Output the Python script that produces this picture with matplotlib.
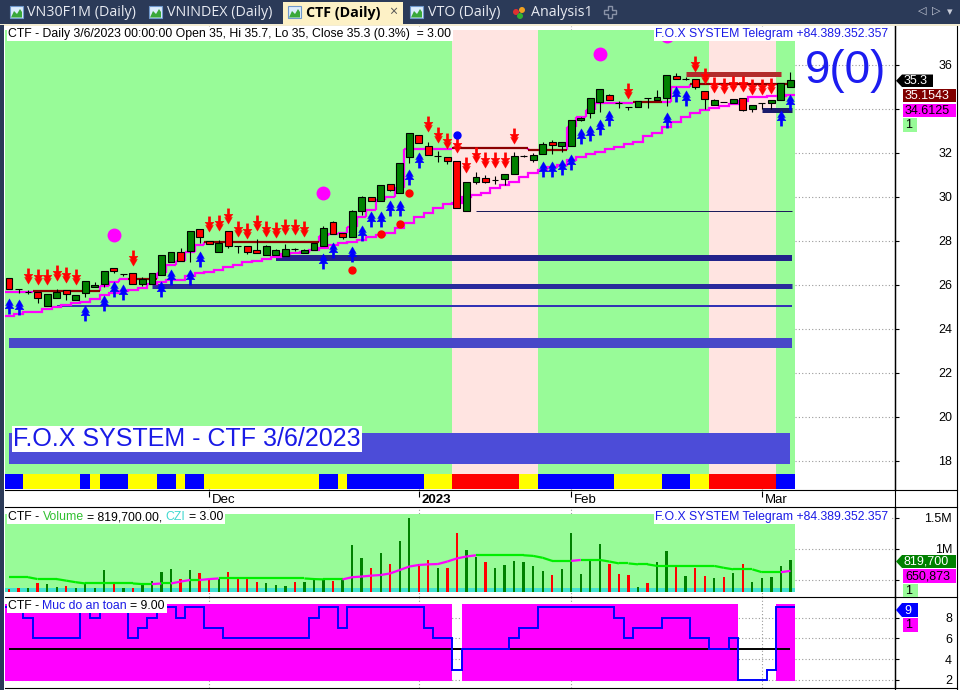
import numpy as np
import matplotlib
matplotlib.use("Agg")
import matplotlib.pyplot as plt
import matplotlib.transforms as mtransforms
from matplotlib.path import Path
from matplotlib.patches import Rectangle, Polygon, Circle
from matplotlib.lines import Line2D
from matplotlib.collections import LineCollection

plt.rcParams['font.family'] = ['Liberation Sans', 'DejaVu Sans']

# ======================= DATA =======================
symbol = "CTF"
last_date = "3/6/2023"

opens = [26.3, 25.8, 25.7, 25.7, 25.05, 25.4, 25.75, 25.3, 25.65, 25.9,
         26.05, 26.75, 26.5, 26.55, 26.05, 26.05, 26.45, 27.05, 27.5, 27.55,
         28.55, 28.0, 27.5, 28.45, 27.75, 27.75, 27.6, 27.35, 27.35, 27.3,
         27.65, 27.45, 27.6, 27.75, 28.85, 28.35, 28.2, 29.35, 30.0, 29.8,
         30.6, 30.2, 31.8, 32.8, 32.3, 31.85, 31.8, 31.65, 29.35, 30.7,
         30.85, 30.75, 30.8, 31.05, 31.85, 31.7, 31.95, 32.5, 32.3, 32.3,
         33.5, 33.8, 34.3, 34.65, 34.25, 34.1, 34.1, 34.5, 34.4, 34.5,
         35.5, 35.35, 35.35, 34.8, 34.2, 34.3, 34.25, 34.5, 34.0, 34.25,
         34.25, 34.4, 35.0]
closes = [25.8, 25.8, 25.7, 25.4, 25.6, 25.7, 25.6, 25.55, 26.2, 26.0,
          26.65, 26.65, 26.5, 26.05, 26.25, 26.55, 27.35, 27.5, 27.1, 28.45,
          28.2, 27.85, 27.9, 27.75, 27.75, 27.5, 27.45, 27.75, 27.6, 27.65,
          27.65, 27.6, 27.9, 28.6, 28.3, 28.2, 29.35, 30.0, 29.8, 30.55,
          30.3, 31.55, 32.9, 32.45, 31.9, 31.85, 31.65, 29.5, 30.7, 30.9,
          30.7, 30.75, 31.05, 31.85, 31.85, 31.9, 32.4, 32.35, 32.5, 33.5,
          33.6, 34.5, 34.9, 34.4, 34.25, 34.1, 34.35, 34.5, 34.55, 35.55,
          35.35, 35.35, 35.0, 34.45, 34.4, 34.3, 34.45, 33.95, 34.2, 34.25,
          34.4, 35.2, 35.3]
highs = [26.3, 25.8, 25.75, 25.7, 25.6, 25.8, 25.75, 25.55, 26.2, 26.15,
         26.65, 26.75, 26.5, 26.55, 26.35, 26.55, 27.35, 27.5, 27.7, 28.45,
         28.55, 28.0, 28.05, 28.45, 27.75, 27.75, 28.1, 27.8, 27.65, 27.85,
         27.7, 27.65, 27.9, 28.7, 28.9, 28.35, 29.4, 30.05, 30.0, 30.55,
         30.6, 31.55, 32.9, 32.8, 32.5, 32.1, 31.8, 31.65, 30.7, 31.15,
         31.0, 30.95, 31.05, 32.05, 31.9, 32.0, 32.5, 32.6, 32.5, 33.5,
         33.65, 34.5, 34.9, 34.7, 34.35, 34.1, 34.35, 34.5, 34.85, 35.55,
         35.65, 35.45, 35.35, 34.8, 34.45, 34.3, 34.45, 34.5, 34.2, 34.25,
         34.4, 35.2, 35.7]
lows = [25.8, 25.65, 25.6, 25.2, 25.05, 25.4, 25.3, 25.3, 25.45, 25.9,
        25.9, 26.55, 26.4, 26.05, 25.95, 26.05, 26.45, 27.05, 27.1, 27.05,
        27.9, 27.85, 27.5, 27.7, 27.45, 27.4, 27.45, 27.35, 27.35, 27.3,
        27.55, 27.45, 27.6, 27.75, 28.3, 28.1, 28.2, 29.2, 29.8, 29.8,
        30.25, 30.2, 31.55, 32.45, 31.9, 31.6, 31.5, 29.5, 29.35, 30.6,
        30.65, 30.6, 30.55, 31.05, 31.8, 31.6, 31.95, 31.95, 32.05, 32.3,
        33.45, 33.6, 33.85, 34.4, 34.05, 33.95, 34.1, 34.05, 34.4, 34.15,
        35.35, 35.3, 34.9, 34.0, 34.2, 34.3, 34.25, 33.9, 33.85, 34.0,
        34.0, 34.4, 35.0]

volumes = [360000, 370000, 380000, 450000, 440000, 390000, 410000, 370000, 440000, 370000,
           665000, 450000, 380000, 380000, 440000, 490000, 630000, 680000, 520000, 665000,
           610000, 520000, 520000, 630000, 540000, 560000, 470000, 450000, 430000, 410000,
           470000, 470000, 520000, 520000, 490000, 520000, 1060000, 850000, 690000, 930000,
           760000, 1130000, 1490000, 760000, 820000, 690000, 690000, 1250000, 980000, 880000,
           800000, 700000, 745000, 810000, 790000, 730000, 650000, 585000, 680000, 1260000,
           600000, 820000, 1080000, 760000, 600000, 585000, 400000, 450000, 790000, 970000,
           720000, 570000, 690000, 570000, 540000, 550000, 610000, 760000, 470000, 540000,
           550000, 730000, 819700]
volume_colors = ("rrgrggrggg" "grgrggggrg" "rrgrrrrggg" "rgggrgggrg" "rggrrgrrgg"
                 "rggggggrgg" "gggrrrgrgg" "rgrrgrgrgg" "ggg")
volume_ma = [550000, 550000, 550000, 520000, 520000, 520000, 495000, 470000, 450000, 450000,
             450000, 450000, 450000, 450000, 440000, 440000, 450000, 450000, 480000, 505000,
             505000, 520000, 530000, 530000, 530000, 530000, 530000, 530000, 530000, 530000,
             530000, 530000, 520000, 515000, 515000, 515000, 550000, 560000, 575000, 585000,
             610000, 665000, 720000, 745000, 755000, 760000, 800000, 850000, 880000, 900000,
             900000, 900000, 900000, 900000, 900000, 890000, 860000, 810000, 810000, 810000,
             825000, 825000, 825000, 800000, 770000, 770000, 755000, 755000, 730000, 730000,
             730000, 730000, 730000, 730000, 730000, 700000, 675000, 675000, 675000, 630000,
             630000, 630000, 650873]

trail_line = [24.59, 24.68, 24.76, 24.76, 24.89, 24.99, 25.09, 25.17, 25.24, 25.35,
              25.55, 25.62, 25.74, 25.77, 25.85, 26.05, 26.15, 26.23, 26.23, 26.42,
              26.53, 26.58, 26.68, 26.80, 26.91, 27.03, 27.10, 27.20, 27.29, 27.40,
              27.44, 27.50, 27.59, 27.67, 27.82, 27.90, 27.97, 28.05, 28.20, 28.27,
              28.38, 28.58, 28.80, 29.08, 29.29, 29.51, 29.68, 29.71, 29.99, 30.09,
              30.20, 30.40, 30.55, 30.70, 30.92, 31.08, 31.23, 31.35, 31.45, 31.68,
              31.83, 31.95, 32.06, 32.17, 32.29, 32.41, 32.51, 32.77, 32.92, 33.17,
              33.42, 33.65, 33.83, 33.95, 34.03, 34.14, 34.21, 34.38, 34.53, 34.56,
              34.59, 34.60, 34.6125]
upper_line = [25.67, 25.67, 25.70, 25.74, 25.74, 25.74, 25.74, 25.74, 25.74, 25.74,
              25.95, 26.15, 26.26, 26.26, 26.26, 26.26, 26.53, 26.90, 27.10, 27.50,
              27.80, 27.95, 27.95, 27.95, 27.95, 27.95, 27.95, 27.95, 27.95, 27.95,
              27.95, 27.95, 27.95, 28.23, 28.32, 28.38, 28.65, 29.10, 29.41, 29.86,
              30.01, 30.39, 32.17, 32.17, 32.17, 32.17, 32.17, 32.24, 32.24, 32.24,
              32.24, 32.24, 32.24, 32.24, 32.24, 32.14, 32.14, 32.14, 32.14, 33.20,
              33.65, 33.95, 34.26, 34.29, 34.29, 34.29, 34.33, 34.33, 34.33, 34.33,
              35.02, 35.02, 35.1543, 35.1543, 35.1543, 35.1543, 35.1543, 35.1543, 35.1543, 35.1543,
              35.1543, 35.1543, 35.1543]
upper_flag = ("mmmrrrrrrr" "mmmrrrmmmm" "mrrrrrrrrr" "rrrmmmmmmm" "mmmmmmmrrr"
              "rrrrrrrrrm" "mmmmmmrrrm" "mmrrrrrrrr" "rrr")

sell_bars = [3, 4, 5, 6, 7, 8, 14, 22, 23, 24, 25, 26, 27, 28, 29, 30, 31, 32,
             45, 46, 47, 48, 49, 50, 51, 52, 53, 54, 66, 73, 74, 75, 76, 77, 78, 79, 80, 81]
sell_y = [26.40, 26.35, 26.35, 26.53, 26.43, 26.35, 27.21,
          28.77, 28.80, 29.13, 28.53, 28.45, 28.80, 28.53, 28.48, 28.62, 28.62, 28.53,
          33.31, 32.80, 32.54, 32.34, 31.43, 31.89, 31.70, 31.66, 31.70, 32.77, 34.80,
          36.04, 35.49, 35.09, 35.05, 35.13, 35.13, 34.98, 34.98, 35.05]
buy_bars = [1, 2, 9, 11, 12, 13, 17, 18, 20, 21, 34, 35, 37, 38, 39, 40, 41, 42, 43, 44,
            57, 58, 59, 60, 61, 62, 63, 64, 70, 71, 72, 82, 83]
buy_y = [25.05, 24.98, 24.71, 25.20, 25.81, 25.70, 25.81, 26.38, 26.38, 27.16,
         27.11, 27.58, 27.39, 28.38, 29.02, 29.02, 29.51, 29.51, 30.90, 31.70,
         31.25, 31.25, 31.36, 31.57, 32.75, 32.91, 33.16, 33.61, 33.49, 34.67, 34.52,
         33.58, 34.33]
red_dot_bars = [37, 40, 42, 43]
red_dot_y = [26.68, 28.32, 28.77, 30.20]
blue_dot_bars = [48]
blue_dot_y = [32.83]
magenta_dot_bars = [12, 34, 63, 70]
magenta_dot_y = [28.27, 30.17, 36.50, 37.30]

support_start = [29, 16, 6, 1, 50, 80]
support_level = [27.24, 25.93, 25.05, 23.37, 29.36, 33.93]
resist_start, resist_end, resist_level = 72, 82, 35.57

safety = [9, 9, 8, 6, 6, 6, 6, 6, 9, 8,
          9, 9, 9, 6, 7, 8, 9, 9, 8, 9,
          9, 7, 7, 6, 6, 6, 6, 6, 6, 6,
          6, 6, 8, 9, 9, 7, 9, 9, 9, 9,
          9, 9, 9, 9, 7, 6, 6, 3, 5, 5,
          5, 5, 5, 6, 7, 7, 9, 9, 9, 9,
          9, 9, 9, 9, 8, 6, 7, 7, 7, 8,
          8, 8, 6, 6, 5, 5, 6, 2, 2, 2,
          3, 9, 9]
strip_codes = ("BB" + "YYYYYY" + "B" + "Y" + "BBB" + "YYY" + "BB" + "Y" + "BB" + "Y" * 12 +
               "BB" + "Y" + "B" * 8 + "YYY" + "R" * 7 + "YY" + "B" * 8 + "Y" * 5 + "BBB" +
               "YY" + "R" * 7 + "BB")
pink_zones = [(48, 56), (75, 81)]
month_bars = [22, 44, 60, 80]
month_labels = ["Dec", "2023", "Feb", "Mar"]
price_ticks = [18, 20, 22, 24, 26, 28, 30, 32, 34, 36]
price_tick_labels = ["18", "20", "22", "24", "26", "28", "30", "32", "", "36"]  # 34 hidden under tags
volume_ticks = [500000, 1000000, 1500000]
volume_tick_labels = ["", "1M", "1.5M"]  # 500,000 hidden under tags

# ======================= FIGURE =======================
W, H = 960, 690
fig = plt.figure(figsize=(W / 100, H / 100), dpi=100)
fig.patch.set_facecolor('white')
pxT = mtransforms.Affine2D().scale(1 / W, -1 / H).translate(0, 1) + fig.transFigure

n = len(closes)
idx = np.arange(n)
o = np.array(opens); c = np.array(closes); h = np.array(highs); l = np.array(lows)
XL = (-0.42, 92.97)
GREEN_BG = '#98fb98'
PINK_BG = '#ffe4e1'
GRID = dict(color='#9a9a9a', linestyle=(0, (1, 2)), linewidth=0.8)
mx = np.array(month_bars) - 1


def rect_px(x0, y0, x1, y1):
    return [x0 / W, 1 - y1 / H, (x1 - x0) / W, (y1 - y0) / H]


def style_axis(a, ticks, labels=None):
    for s in ('left', 'top', 'bottom'):
        a.spines[s].set_visible(False)
    a.spines['right'].set_linewidth(1.0)
    a.yaxis.tick_right()
    a.set_yticks(ticks)
    if labels is not None:
        a.set_yticklabels(labels)
    a.tick_params(axis='x', bottom=False, labelbottom=False, top=False)
    a.tick_params(axis='y', direction='out', length=3, width=0.8, labelsize=9,
                  pad=38, left=False, right=True, labelright=True, labelleft=False)
    for t in a.yaxis.get_major_ticks():
        t.label2.set_horizontalalignment('right')
    a.set_axisbelow(True)
    a.yaxis.grid(True, **GRID)
    a.set_xlim(*XL)


ax = fig.add_axes(rect_px(5, 26, 895, 490))
axd = fig.add_axes(rect_px(5, 490, 895, 507))
axv = fig.add_axes(rect_px(5, 507, 895, 597))
axs = fig.add_axes(rect_px(5, 597, 895, 688))

# ---------------- price panel ----------------
ax.set_ylim(16.68, 37.77)
style_axis(ax, price_ticks, price_tick_labels)
ax.vlines(mx, 16.68, 37.77, zorder=0.4, **GRID)

pink = np.zeros(n, bool)
for a0, a1 in pink_zones:
    pink[a0 - 1:a1] = True
start = 0
for i in range(1, n + 1):
    if i == n or pink[i] != pink[start]:
        ax.axvspan(start - 0.5, i - 0.5, ymin=0.0345, ymax=0.991,
                   color=PINK_BG if pink[start] else GREEN_BG, lw=0, zorder=0.6)
        start = i
strip_map = {'B': '#0000ff', 'Y': '#ffff00', 'R': '#ff0000'}
ax.bar(idx, 17.41 - 16.73, bottom=16.73, width=1.0,
       color=[strip_map[s] for s in strip_codes], lw=0, zorder=0.7)

# banner box
ax.add_patch(Rectangle((0, 17.86), n - 1, 19.27 - 17.86, fc='#4c4cd8', lw=0, zorder=1.5))

sup_w = [6, 5, 2, 10, 1, 5]
sup_c = ['#22228a', '#2a2a9c', '#3232b4', '#4848c8', '#1c1c5c', '#1b1b6b']
for s0, lv, w_, col in zip(support_start, support_level, sup_w, sup_c):
    ax.hlines(lv, s0 - 1, n - 1 + 0.15, color=col, linewidth=w_ * 0.72, zorder=2)
ax.hlines(resist_level, resist_start - 1, resist_end - 1, color='#b22c2c',
          linewidth=5 * 0.72, zorder=2)

ax.stairs(trail_line, np.arange(n + 1) - 0.5, baseline=None, color='#ff00ff',
          linewidth=1.6, zorder=2.5)
up = np.array(upper_line)
ucol = np.where(np.array([ch == 'r' for ch in upper_flag]), '#8b0000', '#ff00ff')
ax.hlines(up, idx - 0.5, idx + 0.5, colors=ucol, linewidth=1.6, zorder=2.6)
for i in range(n - 1):
    if up[i] != up[i + 1]:
        ax.vlines(i + 0.5, up[i], up[i + 1], color='#ff00ff', linewidth=1.6, zorder=2.55)

# candles
body_col = np.where(c > o, '#008000', np.where(c < o, '#ff0000', 'black'))
ax.vlines(idx, l, h, color='black', linewidth=0.8, zorder=3)
ax.bar(idx, np.abs(c - o), bottom=np.minimum(o, c), width=0.72, color=body_col,
       edgecolor='black', linewidth=0.8, zorder=4)

down_verts = [(-0.16, 1.0), (0.16, 1.0), (0.16, 0.30), (0.58, 0.30), (0.26, -0.12),
              (0.5, -0.12), (0.0, -1.0), (-0.5, -0.12), (-0.26, -0.12), (-0.58, 0.30),
              (-0.16, 0.30), (-0.16, 1.0)]
DOWN = Path(down_verts, closed=True)
UP = Path([(x, -y) for x, y in down_verts], closed=True)
ax.plot(np.array(sell_bars) - 1, sell_y, ls='none', marker=DOWN, ms=11,
        mfc='#ff0000', mec='#ff0000', mew=0.3, zorder=5)
ax.plot(np.array(buy_bars) - 1, buy_y, ls='none', marker=UP, ms=11,
        mfc='#0000ff', mec='#0000ff', mew=0.3, zorder=5)
ax.plot(np.array(red_dot_bars) - 1, red_dot_y, ls='none', marker='o', ms=5,
        color='#ff0000', zorder=5)
ax.plot(np.array(blue_dot_bars) - 1, blue_dot_y, ls='none', marker='o', ms=5,
        color='#0000ff', zorder=5)
ax.plot(np.array(magenta_dot_bars) - 1, magenta_dot_y, ls='none', marker='o', ms=9,
        color='#ff00ff', zorder=5)

# ---------------- date strip ----------------
axd.set_xlim(*XL)
axd.set_ylim(0, 1)
axd.axis('off')
axd.vlines(mx, 0.6, 0.96, color='black', linewidth=0.8)
for xm, lab in zip(mx, month_labels):
    axd.annotate(lab, (xm, 0.42), xytext=(2.2, 0), textcoords='offset points',
                 va='center', ha='left', fontsize=9.5,
                 fontweight='bold' if lab.isdigit() else 'normal')

# ---------------- volume panel ----------------
vol = np.array(volumes, float)
vma = np.array(volume_ma, float)
VB = 319000
axv.set_ylim(234000, 1670000)
style_axis(axv, volume_ticks, volume_tick_labels)
axv.vlines(mx, 234000, 1670000, zorder=0.4, **GRID)
axv.add_patch(Rectangle((-0.5, VB), n, 1558000 - VB, fc=GREEN_BG, lw=0, zorder=0.6))
axv.add_patch(Rectangle((-0.5, VB), n, 64000, fc='#40e0d0', lw=0, zorder=0.7))
vcols = ['#008000' if ch == 'g' else '#ff0000' for ch in volume_colors]
axv.bar(idx, vol - VB, bottom=VB, width=0.24, color=vcols, lw=0, zorder=2)
segs = [[(i, vma[i]), (i + 1, vma[i + 1])] for i in range(n - 1)]
segc = ['#ff00ff' if vma[i + 1] > vma[i] else '#00ee00' for i in range(n - 1)]
axv.add_collection(LineCollection(segs, colors=segc, linewidths=1.6, zorder=3))

# ---------------- safety panel ----------------
safe = np.array(safety)
axs.set_ylim(1.23, 9.98)
style_axis(axs, [2, 4, 6, 8])
axs.vlines(mx, 1.23, 9.98, zorder=0.4, **GRID)
mask = safe >= 5
axs.bar(idx[mask], 9.31 - 1.9, bottom=1.9, width=1.0, color='#ff00ff', lw=0, zorder=0.6)
axs.hlines(5, 0, n - 1, color='black', linewidth=1.4, zorder=2)
axs.stairs(safe, np.arange(n + 1) - 0.5, baseline=None, color='#0000ff',
           linewidth=1.4, zorder=3)

# ======================= CHROME =======================
for yy in [490, 507, 597, 688]:
    fig.add_artist(Line2D([5, 957], [yy, yy], transform=pxT, color='black', lw=0.8))
for xx in [895, 957]:
    fig.add_artist(Line2D([xx, xx], [26, 690], transform=pxT, color='black', lw=0.8))
fig.add_artist(Rectangle((0, 0), W, 25, transform=pxT, fc='#2b3a58', lw=0))
fig.add_artist(Rectangle((0, 24), W, 2, transform=pxT, fc='#f3ecd2', lw=0))
fig.add_artist(Rectangle((0, 25), 3.5, H - 25, transform=pxT, fc='#2b3a58', lw=0))
fig.add_artist(Rectangle((283, 2), 120, 23, transform=pxT, fc='#fdf1c6', lw=0))


def chart_icon(x):
    fig.add_artist(Rectangle((x, 6), 13, 12, transform=pxT, fc='#dcecfc', ec='#6f98cc', lw=0.8))
    fig.add_artist(Polygon([(x + 1, 17.5), (x + 4, 11), (x + 7, 14), (x + 10, 9), (x + 12, 12),
                            (x + 12, 17.5)], closed=True, transform=pxT, fc='#3aa83a', lw=0))


for xi in [10, 149, 288, 410]:
    chart_icon(xi)
tabf = dict(transform=pxT, va='center', ha='left', fontsize=10.3, family=['Open Sans', 'DejaVu Sans'])
fig.text(27, 12.5, "VN30F1M (Daily)", color='#e8ebf2', **tabf)
fig.text(167, 12.5, "VNINDEX (Daily)", color='#e8ebf2', **tabf)
fig.text(306, 12.5, "CTF (Daily)", color='black', fontweight='bold', **tabf)
fig.text(389, 12.5, "×", color='#555555', **tabf)
fig.text(428, 12.5, "VTO (Daily)", color='#e8ebf2', **tabf)
fig.text(531, 12.5, "Analysis1", color='#e8ebf2', **tabf)
for (cx, cy, cc) in [(516, 12, '#e03030'), (522, 10, '#f0a020'), (520, 16, '#30b030')]:
    fig.add_artist(Circle((cx, cy), 3, transform=pxT, fc=cc, lw=0))
fig.add_artist(Line2D([610], [12], transform=pxT, marker='P', ms=8, mfc='none',
                      mec='#8a93a8', mew=1))
arrf = dict(transform=pxT, va='center', ha='center', fontsize=8, color='#c8ccd8',
            family=['DejaVu Sans'])
fig.text(922, 11, "◁", **arrf)
fig.text(936, 11, "▷", **arrf)
fig.text(950, 12, "▾", **arrf)

renderer = fig.canvas.get_renderer()


def text_w(s, fs):
    t = fig.text(0, 0, s, fontsize=fs)
    w_ = t.get_window_extent(renderer).width
    t.remove()
    return w_


def multicolor(x, y, parts, fs):
    full = ''.join(p for p, _ in parts)
    wfull = text_w(full, fs)
    fig.add_artist(Rectangle((x - 1.5, y - 7), wfull + 3, 14, transform=pxT,
                             fc='white', lw=0, zorder=2.9))
    ref = text_w('l', fs)
    prefix = ''
    for s, col in parts:
        lead = len(s) - len(s.lstrip(' '))
        pre = prefix + s[:lead]
        dx = (text_w(pre + 'l', fs) - ref) if pre else 0
        fig.text(x + dx, y, s.lstrip(' '), transform=pxT, fontsize=fs, color=col,
                 va='center', ha='left', zorder=4)
        prefix += s


pct = (c[-1] / c[-2] - 1) * 100
multicolor(8, 34, [(f"{symbol} - Daily {last_date} 00:00:00 Open {o[-1]:g}, Hi {h[-1]:g}, "
                    f"Lo {l[-1]:g}, Close {c[-1]:g} ({pct:.1f}%)  = 3.00", 'black')], 8.8)
multicolor(655, 34, [("F.O.X SYSTEM Telegram +84.389.352.357", '#1a1ae6')], 8.8)
multicolor(8, 517, [(f"{symbol} - ", 'black'), ("Volume", '#30c030'),
                    (f" = {vol[-1]:,.2f}, ", 'black'), ("CZI", '#40d8d0'), (" = 3.00", 'black')], 8.8)
multicolor(655, 517, [("F.O.X SYSTEM Telegram +84.389.352.357", '#1a1ae6')], 8.8)
multicolor(8, 606, [(f"{symbol} - ", 'black'), ("Muc do an toan", '#1a1ae6'),
                    (f" = {safe[-1]:.2f}", 'black')], 8.8)

fig.text(13, 439, f"F.O.X SYSTEM - {symbol} {last_date}", transform=pxT, fontsize=18,
         color='#1a1ae6', va='center', ha='left',
         bbox=dict(fc='white', ec='none', pad=0.8), zorder=3)
fig.text(846, 71, f"{safe[-1]}(0)", transform=pxT, fontsize=33, color='#1c1cf0',
         va='center', ha='center', family=['Liberation Sans Narrow', 'Liberation Sans'])


def tag(x0, y0, x1, y1, fc, txt, tc, arrow=False):
    ym = (y0 + y1) / 2
    if arrow:
        pts = [(x0, ym), (x0 + 6, y0), (x1, y0), (x1, y1), (x0 + 6, y1)]
    else:
        pts = [(x0, y0), (x1, y0), (x1, y1), (x0, y1)]
    fig.add_artist(Polygon(pts, closed=True, transform=pxT, fc=fc, lw=0, zorder=5))
    fig.text(x0 + (8 if arrow else 2), ym + 0.5, txt, transform=pxT, fontsize=9, color=tc,
             va='center', ha='left', zorder=6)


tag(896, 74.5, 933, 87, '#000000', f"{c[-1]:g}", 'white', True)
tag(903, 88.5, 956, 102, '#800000', f"{up[-1]:.4f}", 'white')
tag(903, 103.5, 956, 117, '#ff00ff', f"{trail_line[-1]:.4f}", 'black')
tag(903, 117.5, 917, 132, GREEN_BG, "1", 'black')
tag(896, 555, 956, 568, '#008000', f"{vol[-1]:,.0f}", 'white', True)
tag(903, 569, 956, 582.5, '#ff00ff', f"{vma[-1]:,.0f}", 'black')
tag(903, 583.5, 918, 597, GREEN_BG, "1", 'black')
tag(896, 603, 918, 617, '#0000ff', f"{safe[-1]}", 'white', True)
tag(903, 618, 918, 632, '#ff00ff', "1", 'black')

fig.savefig("out.png", dpi=100)
